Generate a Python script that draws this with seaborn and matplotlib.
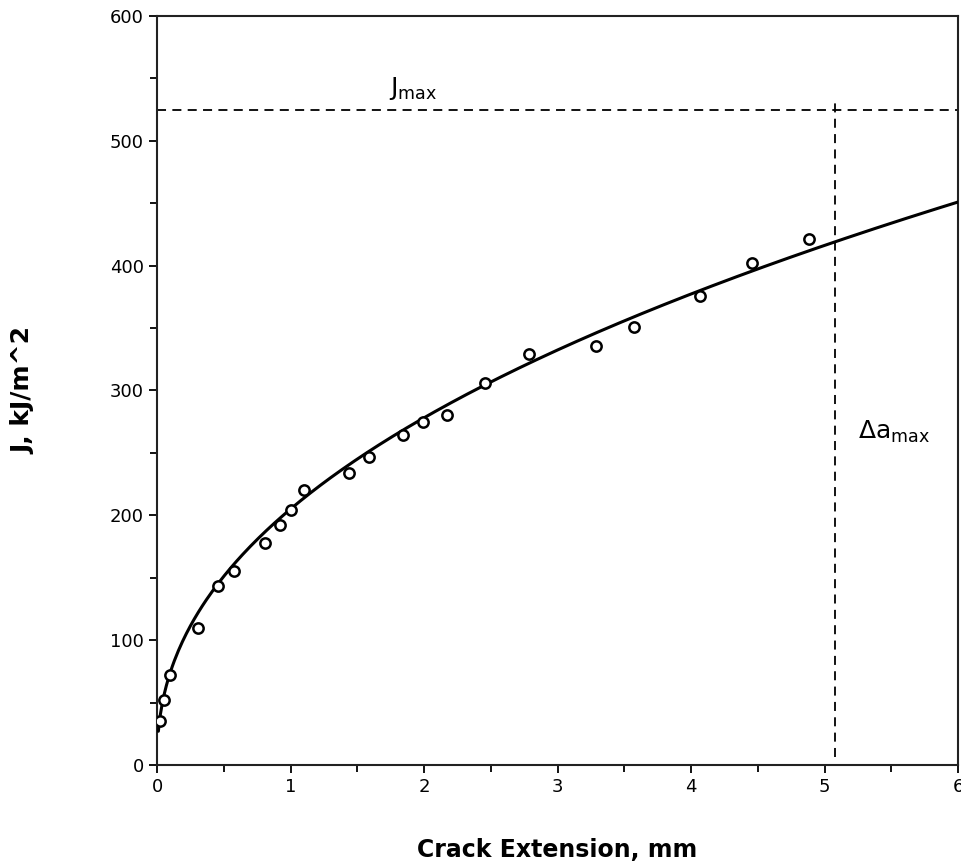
import numpy as np
import pandas as pd
import matplotlib
matplotlib.use("Agg")
import matplotlib.pyplot as plt
from matplotlib.ticker import MultipleLocator
import seaborn as sns

crack_ext = [0.02, 0.05, 0.10, 0.31, 0.46, 0.58, 0.81, 0.92, 1.00, 1.10,
             1.44, 1.59, 1.84, 1.99, 2.17, 2.46, 2.79, 3.29, 3.57, 4.07,
             4.46, 4.88]
j_values = [35, 52, 72, 110, 143, 155, 178, 192, 204, 220,
            234, 247, 264, 275, 280, 306, 329, 336, 351, 376,
            402, 421]

# power-law fit J = C * da^n (coefficients)
fit_c = 205.0
fit_n = 0.44
j_max = 525
da_max = 5.08

sns.set_theme(style="ticks")
plt.rcParams['font.family'] = ['DejaVu Sans']
plt.rcParams.update({'text.color': 'black', 'axes.labelcolor': 'black',
                     'xtick.color': 'black', 'ytick.color': 'black'})

fig = plt.figure(figsize=(9.61, 8.68), dpi=100)
ax = fig.add_axes([0.1634, 0.1187, 0.8335, 0.8629])

points = pd.DataFrame({'da': crack_ext, 'J': j_values})
curve_x = np.linspace(0.01, 6.0, 400)
curve = pd.DataFrame({'da': curve_x, 'J': fit_c * curve_x ** fit_n})

sns.lineplot(data=curve, x='da', y='J', ax=ax, color='black', lw=2.2,
             zorder=3)
sns.scatterplot(data=points, x='da', y='J', ax=ax, marker='o', s=55,
                facecolor='white', edgecolor='black', linewidth=1.8,
                zorder=4)

ax.axhline(j_max, color='black', lw=1.3, ls=(0, (5, 3.5)), zorder=2,
           clip_on=False)
ax.plot([da_max, da_max], [6, j_max + 5], color='black', lw=1.3,
        ls=(0, (5, 3.5)), zorder=2)

ax.text(1.92, 542, r'J$\mathregular{_{max}}$', fontsize=18,
        ha='center', va='center')
ax.text(5.52, 267, r'$\mathregular{\Delta a_{max}}$', fontsize=18,
        ha='center', va='center')

ax.set_xlim(0, 6)
ax.set_ylim(0, 600)
ax.xaxis.set_major_locator(MultipleLocator(1))
ax.xaxis.set_minor_locator(MultipleLocator(0.5))
ax.yaxis.set_major_locator(MultipleLocator(100))
ax.yaxis.set_minor_locator(MultipleLocator(50))
ax.tick_params(which='major', direction='out', length=6, width=1.3,
               labelsize=13, color='black', labelcolor='black')
ax.tick_params(which='minor', direction='out', length=5, width=1.3,
               color='black')
for sp in ax.spines.values():
    sp.set_linewidth(1.5)
    sp.set_color('#222222')

ax.set_xlabel('Crack Extension, mm', fontsize=17, fontweight='bold')
ax.set_ylabel('J, kJ/m^2', fontsize=18, fontweight='bold')
ax.xaxis.set_label_coords(0.5, -0.098)
ax.yaxis.set_label_coords(-0.152, 0.5)

fig.savefig('out.png', dpi=100)
